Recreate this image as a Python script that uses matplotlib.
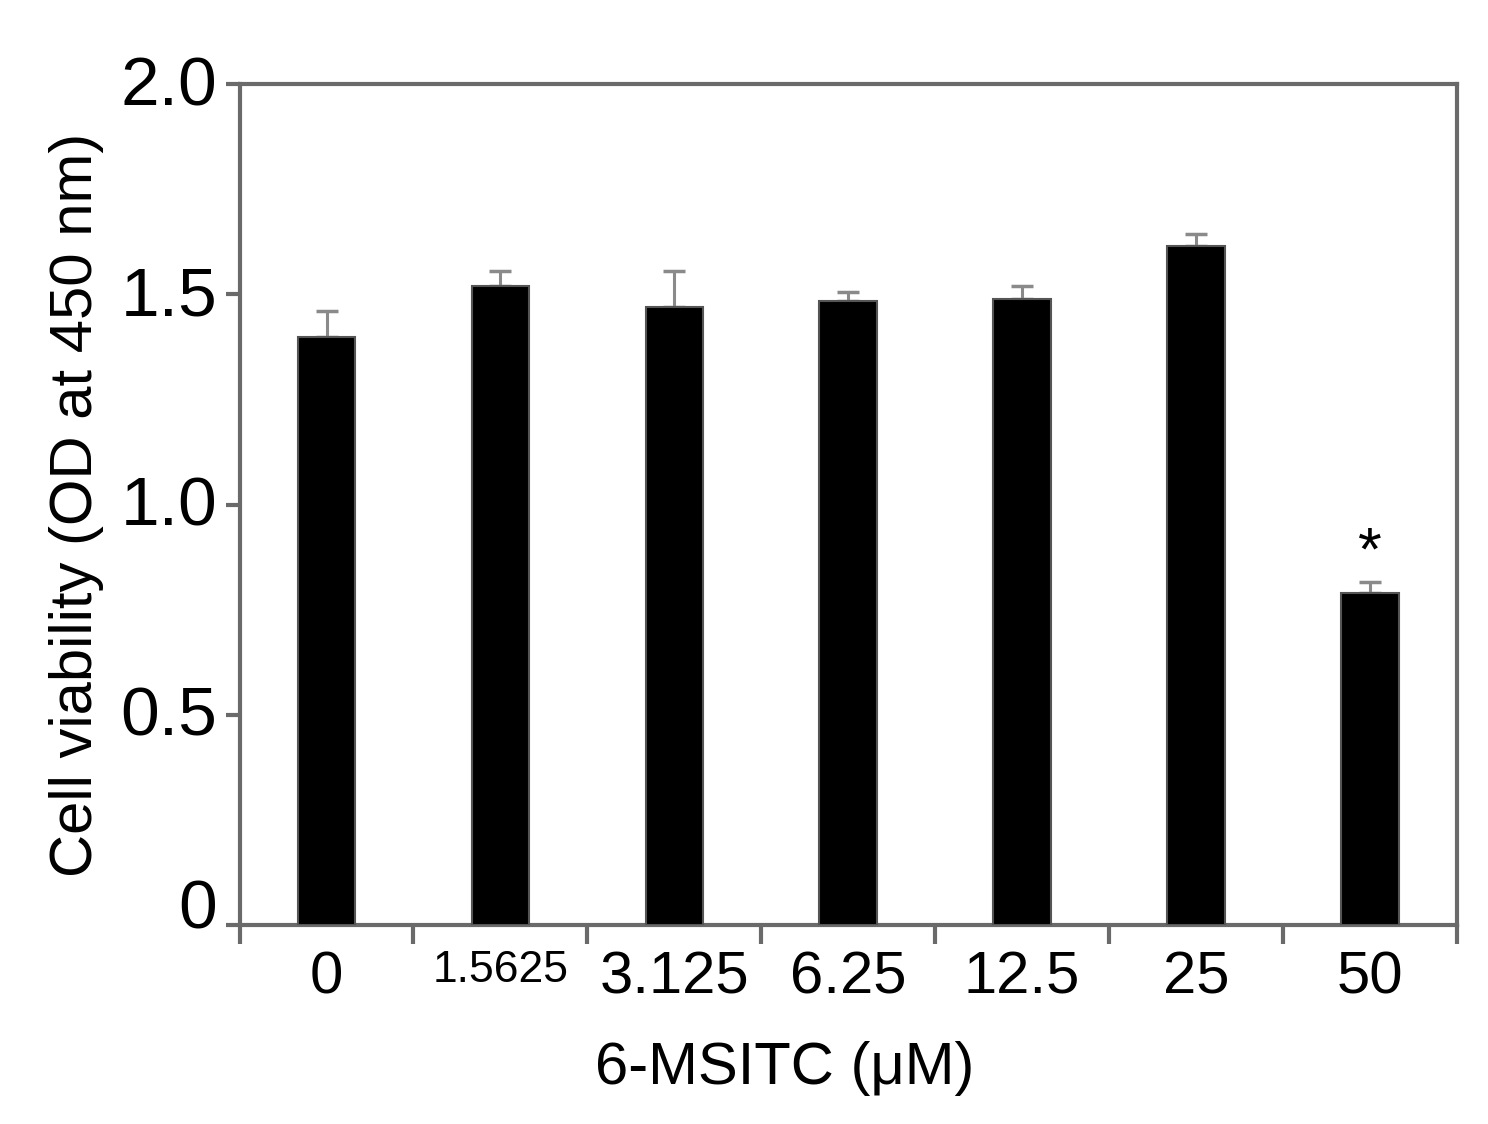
import matplotlib
matplotlib.use("Agg")
import matplotlib.pyplot as plt
import matplotlib.transforms as mtransforms
import numpy as np

categories = ["0", "1.5625", "3.125", "6.25", "12.5", "25", "50"]
values = [1.40, 1.52, 1.47, 1.485, 1.49, 1.615, 0.79]
errors = [0.06, 0.035, 0.085, 0.02, 0.03, 0.03, 0.025]
significant = [False, False, False, False, False, False, True]
yticks = [0, 0.5, 1.0, 1.5, 2.0]
yticklabels = ["0", "0.5", "1.0", "1.5", "2.0"]

plt.rcParams['font.family'] = ['Liberation Sans', 'DejaVu Sans']

fig = plt.figure(figsize=(14.88, 11.24), dpi=100)
ax = fig.add_axes([0.161, 0.177, 0.818, 0.748])

x = np.arange(len(categories))
spine_col = "#6a6a6a"
ax.bar(x, values, width=0.33, color="black", edgecolor="#555555", linewidth=1.5, zorder=3)
ax.errorbar(x, values, yerr=[np.zeros(len(errors)), errors], fmt="none",
            ecolor="#8a8a8a", elinewidth=2.2, capsize=8, capthick=2.5, zorder=2)

for xi, v, e, s in zip(x, values, errors, significant):
    if s:
        ax.text(xi, v + e + 0.03, "*", ha="center", va="baseline", fontsize=44)

ax.set_xlim(-0.5, len(categories) - 0.5)
ax.set_ylim(0, 2.0)

for sp in ax.spines.values():
    sp.set_color(spine_col)
    sp.set_linewidth(3)

ax.set_yticks(yticks)
ax.set_yticklabels(yticklabels, fontsize=50)
ax.tick_params(axis="y", direction="out", length=10, width=3, color=spine_col, pad=6)
# reference places the "0" label slightly above its tick
lab0 = ax.get_yticklabels()[0]
lab0.set_transform(lab0.get_transform() + mtransforms.ScaledTranslation(0, 22/100, fig.dpi_scale_trans))
for lab in ax.get_yticklabels()[1:]:
    lab.set_transform(lab.get_transform() + mtransforms.ScaledTranslation(0, 4/100, fig.dpi_scale_trans))

ax.set_xticks(x)
ax.set_xticklabels(categories, fontsize=43)
ax.get_xticklabels()[1].set_fontsize(32)
ax.tick_params(axis="x", which="major", length=0, pad=18)
ax.set_xticks(np.arange(-0.5, len(categories), 1.0), minor=True)
ax.tick_params(axis="x", which="minor", direction="out", length=14, width=3, color=spine_col)

ax.set_xlabel("6-MSITC (\u03bcM)", fontsize=43)
ax.xaxis.set_label_coords(0.448, -0.138)
ax.set_ylabel("Cell viability (OD at 450 nm)", fontsize=43, labelpad=12)

fig.savefig("out.png", dpi=100, facecolor="white")
